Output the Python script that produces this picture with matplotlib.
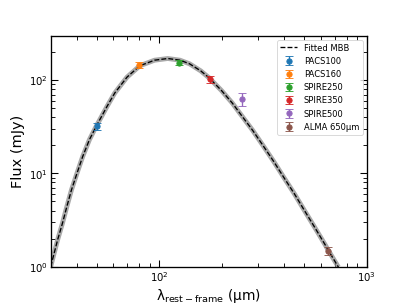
import matplotlib
matplotlib.use("Agg")
import matplotlib.pyplot as plt

# photometry (rest-frame wavelength in micron, flux in mJy)
bands = ["PACS100", "PACS160", "SPIRE250", "SPIRE350", "SPIRE500", "ALMA 650μm"]
wave = [50, 80, 125, 175, 250, 650]
flux = [32, 145, 154, 103, 63.5, 1.49]
flux_err = [2.7, 11, 10, 8.5, 10, 0.15]

# fitted MBB curve
mbb_wave = [30, 32.4, 34.2, 35.9, 37.8, 40.2, 42.8, 46.1, 49.7, 56.1, 61.1, 70,
            80.7, 95, 110, 126, 140, 158.5, 174, 199.5, 225, 251, 282, 316,
            355, 398, 447, 501, 562, 631, 650, 690, 730]
mbb_flux = [1.0, 1.94, 2.93, 4.42, 6.68, 10.1, 15.2, 23.0, 32, 52.5, 73, 108,
            143, 164, 171, 164, 150, 126, 106, 77.6, 56.9, 41, 29, 20,
            13.6, 9.1, 6.1, 4.0, 2.63, 1.71, 1.52, 1.22, 0.99]

fig = plt.figure(figsize=(6.4, 4.8), dpi=63.6)
ax = fig.add_axes([0.1245, 0.1256, 0.7765, 0.7564])

ax.plot(mbb_wave, mbb_flux, color="0.55", lw=5.5, alpha=0.75,
        solid_capstyle="butt", solid_joinstyle="round")
ax.plot(mbb_wave, mbb_flux, "k--", lw=1.5, label="Fitted MBB")

for i in range(len(bands)):
    ax.errorbar(wave[i], flux[i], yerr=flux_err[i], fmt="o", ms=6,
                capsize=4, color=f"C{i}", label=bands[i])

ax.set_xscale("log")
ax.set_yscale("log")
ax.set_xlim(30, 1000)
ax.set_ylim(1, 300)

ax.set_xlabel(r"λ$_{\rm rest-frame}$ (μm)", fontsize=15.5)
ax.set_ylabel("Flux (mJy)", fontsize=16.5)

ax.tick_params(which="both", direction="in", top=True, right=True, labelsize=11.5)
ax.tick_params(which="major", length=8, width=1.2)
ax.tick_params(which="minor", length=4.5, width=1)
for s in ax.spines.values():
    s.set_linewidth(1.5)

ax.legend(loc="upper right", fontsize=9.5)

fig.savefig("out.png", dpi=63.6)
